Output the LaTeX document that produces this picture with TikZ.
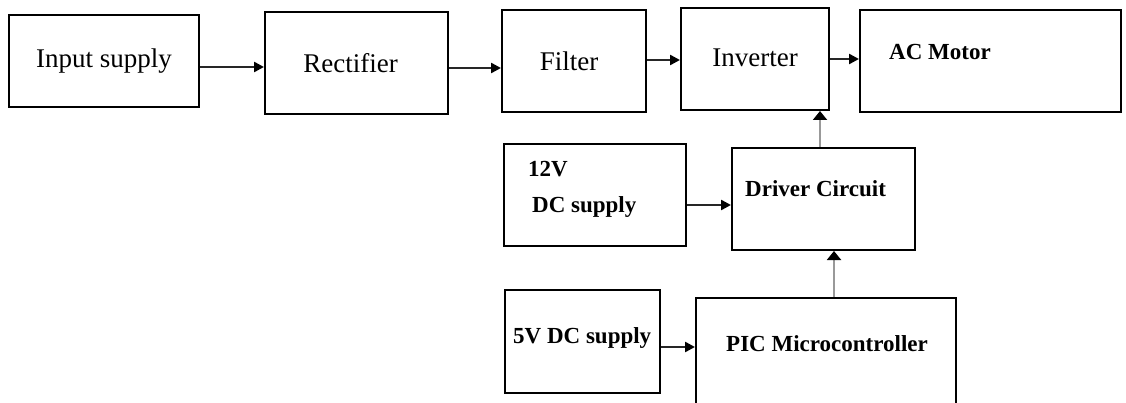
\documentclass[tikz,border=0pt]{standalone}
\usepackage{fontspec}
\setmainfont{Liberation Serif}
\usetikzlibrary{arrows.meta,calc}
\begin{document}
\begin{tikzpicture}[x=1pt,y=-1pt,
 box/.style={draw=black, line width=2pt, rectangle, inner sep=0pt, font=\fontsize{27}{32}\selectfont},
 lbl/.style={inner sep=0pt, anchor=mid west, font=\bfseries\fontsize{23}{27}\selectfont},
 conn/.style={line width=2.4pt, draw=black!85, -{Triangle[length=10pt,width=10pt,color=black]}},
 vconn/.style={line width=2pt, draw=black!40, -{Triangle[length=9pt,width=14pt,color=black]}}]
\useasboundingbox (0,0) rectangle (1126,403);
\clip (0,0) rectangle (1126,403);
% top row
\node[box, minimum width=190pt, minimum height=92pt]  (in)   at (104,61)    {\raisebox{1pt}{Input supply}};
\node[box, minimum width=183pt, minimum height=102pt] (rect) at (356.5,63)  {\hspace{-12pt}Rectifier};
\node[box, minimum width=144pt, minimum height=102pt] (filt) at (574,61)    {\hspace{-10pt}Filter};
\node[box, minimum width=148pt, minimum height=102pt] (inv)  at (755,59)    {\raisebox{2pt}{Inverter}};
\node[box, minimum width=261pt, minimum height=102pt] (ac)   at (990.5,61)  {};
\node[lbl] (actxt) at (889,57) {AC Motor};
% lower boxes
\node[box, minimum width=182pt, minimum height=102pt] (v12)  at (595,195)   {};
\node[lbl] (v12a) at (528,174) {12V};
\node[lbl] (v12b) at (532,210) {DC supply};
\node[box, minimum width=183pt, minimum height=102pt] (drv)  at (823.5,199) {};
\node[lbl] (drvtxt) at (745,194) {Driver Circuit};
\node[box, minimum width=155pt, minimum height=103pt] (v5)   at (582.5,341.5) {};
\node[lbl] (v5txt) at (513,341) {5V DC supply};
\node[box, minimum width=260pt, minimum height=122pt] (pic)  at (826,359)   {};
\node[lbl] (pictxt) at (726,349) {PIC Microcontroller};
% connectors
\draw[conn] ([yshift=-6pt]in.east) -- ([yshift=-6pt]in.east -| rect.west);
\draw[conn] ([yshift=-5pt]rect.east) -- ([yshift=-5pt]rect.east -| filt.west);
\draw[conn] ([yshift=1pt]filt.east) -- ([yshift=1pt]filt.east -| inv.west);
\draw[conn] (inv.east) -- (inv.east -| ac.west);
\draw[conn] ([yshift=-10pt]v12.east) -- ([yshift=-10pt]v12.east -| drv.west);
\draw[conn] ([yshift=-5.5pt]v5.east) -- ([yshift=-5.5pt]v5.east -| pic.west);
\draw[vconn] ([xshift=-3.5pt]drv.north) -- ([xshift=-3.5pt]drv.north |- inv.south);
\draw[vconn] ([xshift=8pt]pic.north) -- ([xshift=8pt]pic.north |- drv.south);
\end{tikzpicture}
\end{document}
